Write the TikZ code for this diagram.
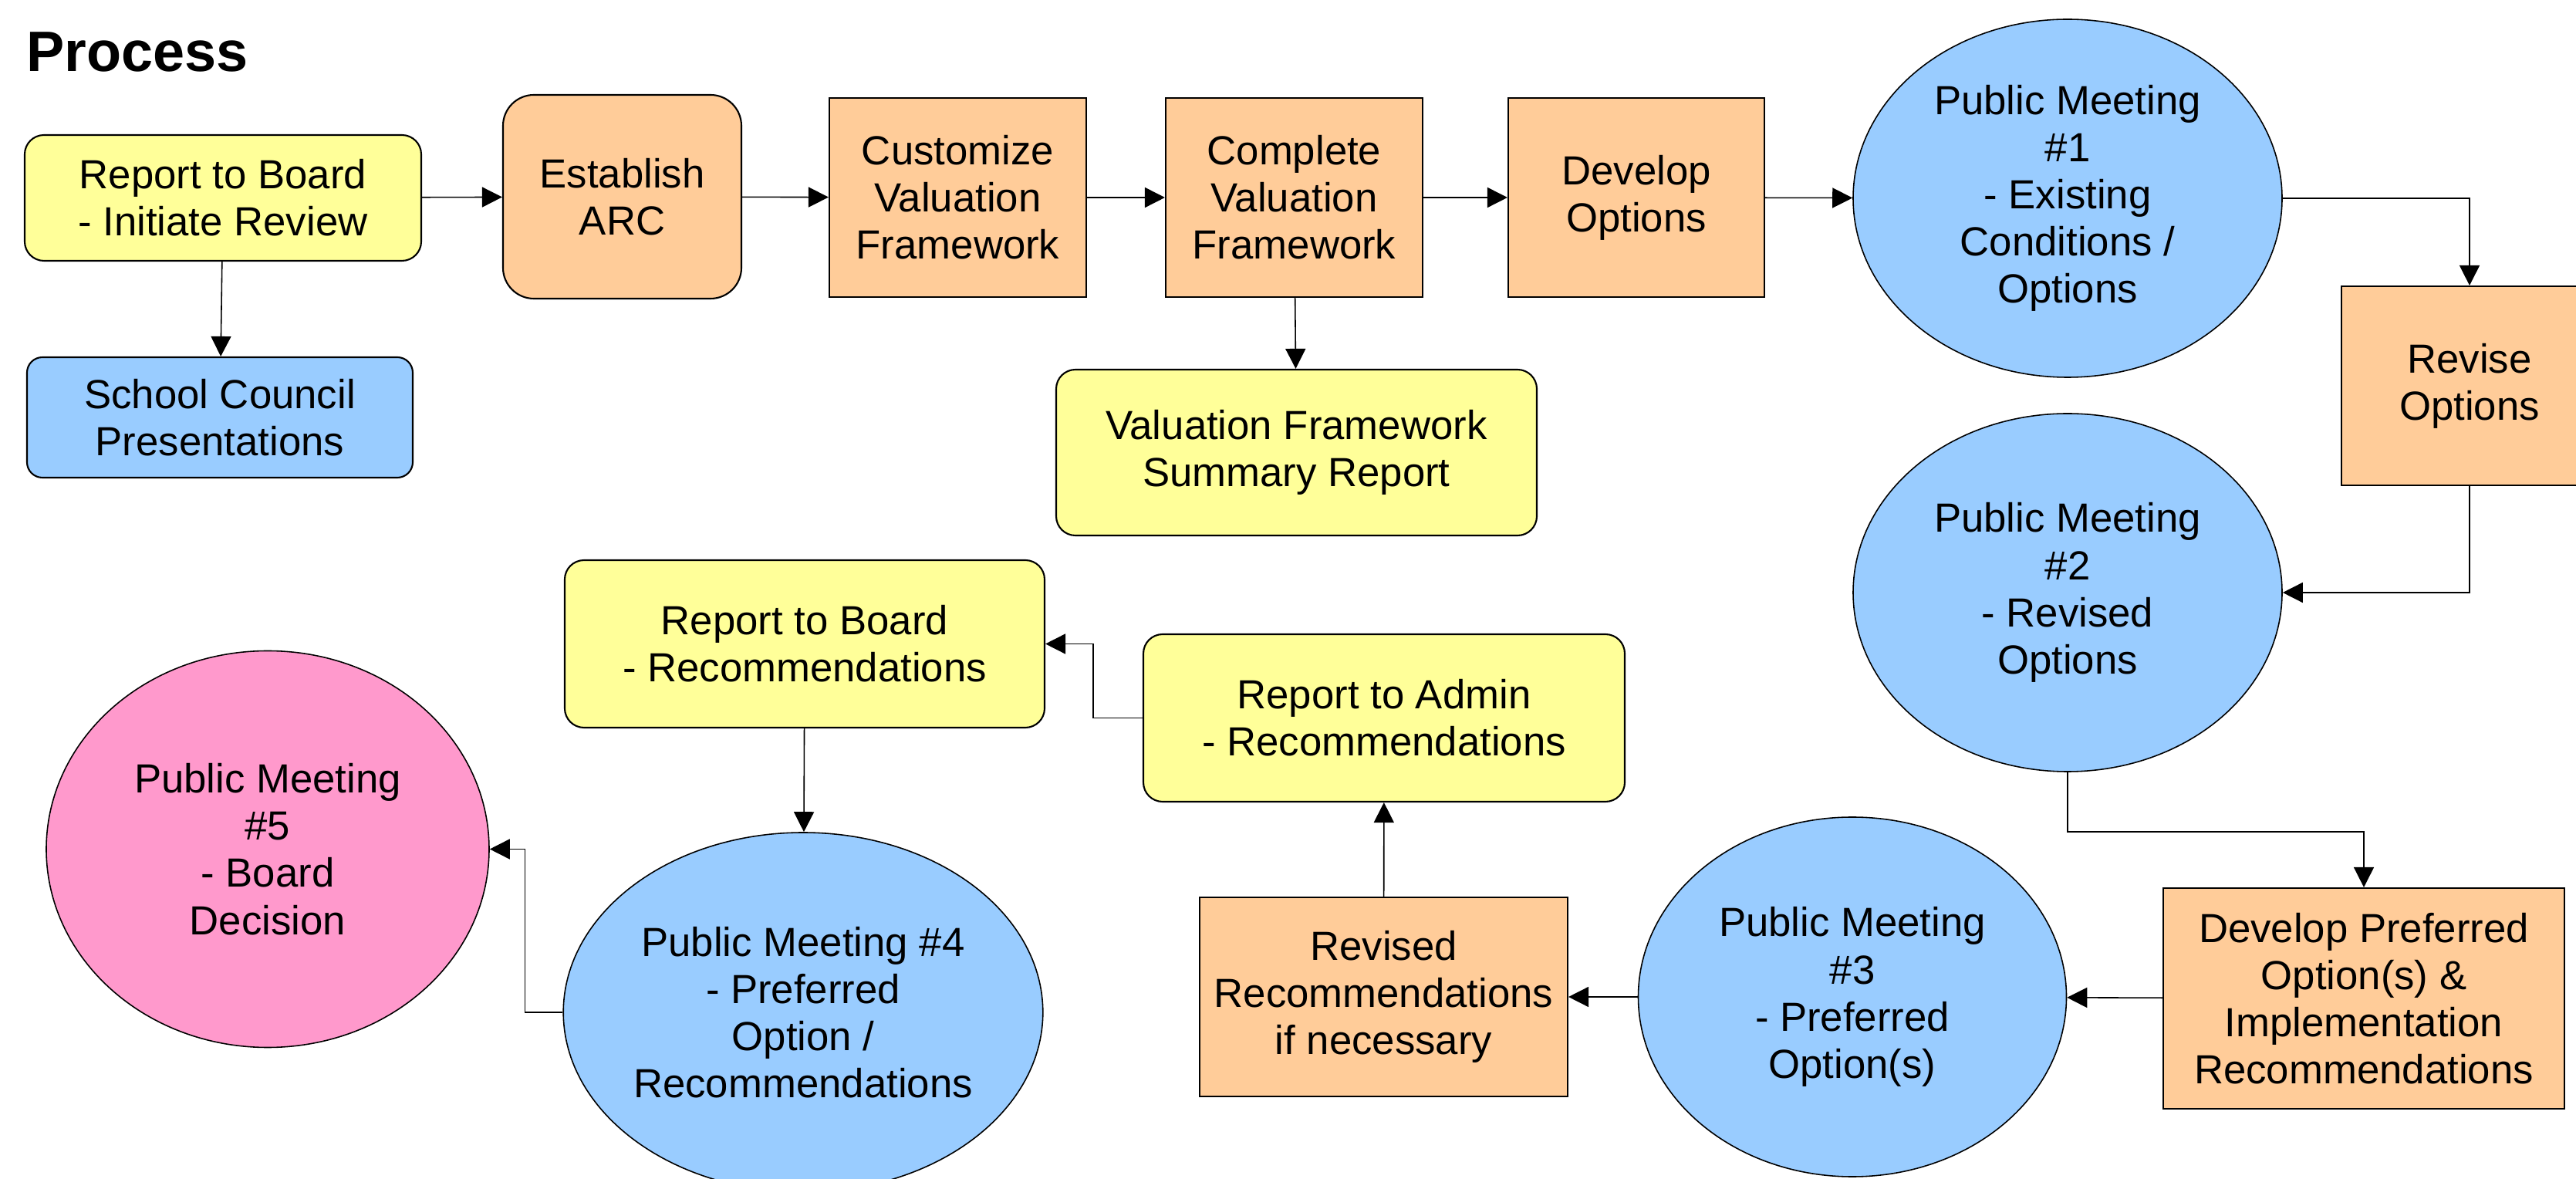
\documentclass[tikz,border=0pt]{standalone}
\usepackage{fontspec}
\setmainfont{Liberation Sans}
\usetikzlibrary{shapes, arrows.meta}
\definecolor{rptyellow}{HTML}{FFFF99}
\definecolor{taskorange}{HTML}{FFCC99}
\definecolor{meetblue}{HTML}{99CCFF}
\definecolor{meetpink}{HTML}{FF99CC}

\begin{document}
\begin{tikzpicture}[>={Triangle[length=7.4pt,width=7.4pt]},
  every node/.style={font=\fontsize{15}{17.4}\selectfont, align=center, inner sep=0pt},
  report/.style={draw, fill=rptyellow, rounded corners=0.25cm, line width=0.6pt},
  task/.style={draw, fill=taskorange, line width=0.6pt},
  meeting/.style={draw, ellipse, fill=meetblue, line width=0.45pt},
  link/.style={->, line width=0.45pt}]

\useasboundingbox (0,0) rectangle (33.39,-15.28);

%Title
\node (title) [anchor=base west, font=\fontsize{21}{25}\selectfont\bfseries] at (0.34,-0.93) {Process};

%Top row
\node (rb1) at (2.89,-2.565) [report, minimum width=5.14cm, minimum height=1.63cm] {Report to Board\\- Initiate Review};
\node (scp) at (2.85,-5.41) [report, fill=meetblue, rounded corners=0.2cm, minimum width=5.0cm, minimum height=1.56cm] {School Council\\Presentations};
\node (arc) at (8.065,-2.55) [task, rounded corners=0.4cm, minimum width=3.09cm, minimum height=2.64cm] {Establish\\ARC};
\node (cvf) at (12.415,-2.56) [task, minimum width=3.33cm, minimum height=2.58cm] {Customize\\Valuation\\Framework};
\node (fvf) at (16.775,-2.56) [task, minimum width=3.33cm, minimum height=2.58cm] {Complete\\Valuation\\Framework};
\node (dev) at (21.21,-2.56) [task, minimum width=3.32cm, minimum height=2.58cm] {Develop\\Options};
\node (vfs) at (16.805,-5.865) [report, minimum width=6.23cm, minimum height=2.15cm] {Valuation Framework\\Summary Report};
\node (pm1) at (26.80,-2.57) [meeting, minimum width=5.56cm, minimum height=4.64cm] {Public Meeting\\\#1\\- Existing\\Conditions /\\Options};

%Right column
\node (rev) at (32.01,-5.00) [task, minimum width=3.32cm, minimum height=2.58cm] {Revise\\Options};
\node (pm2) at (26.80,-7.68) [meeting, minimum width=5.56cm, minimum height=4.64cm] {Public Meeting\\\#2\\- Revised\\Options};
\node (dpo) at (30.64,-12.94) [task, minimum width=5.2cm, minimum height=2.86cm] {Develop Preferred\\Option(s) \&\\Implementation\\Recommendations};

%Bottom row
\node (pm3) at (24.01,-12.92) [meeting, minimum width=5.55cm, minimum height=4.66cm] {Public Meeting\\\#3\\- Preferred\\Option(s)};
\node (rrn) at (17.935,-12.92) [task, minimum width=4.77cm, minimum height=2.58cm] {Revised\\Recommendations\\if necessary};
\node (ra) at (17.94,-9.305) [report, minimum width=6.24cm, minimum height=2.17cm] {Report to Admin\\- Recommendations};
\node (rb2) at (10.43,-8.345) [report, minimum width=6.22cm, minimum height=2.17cm] {Report to Board\\- Recommendations};
\node (pm4) at (10.41,-13.12) [meeting, minimum width=6.18cm, minimum height=4.66cm] {Public Meeting \#4\\- Preferred\\Option /\\Recommendations};
\node (pm5) at (3.47,-11.005) [meeting, fill=meetpink, minimum width=5.74cm, minimum height=5.14cm] {Public Meeting\\\#5\\- Board\\Decision};

%Connectors
\draw[link] (rb1) -- (arc);
\draw[link] (rb1) -- (scp);
\draw[link] (arc) -- (cvf);
\draw[link] (cvf) -- (fvf);
\draw[link] (fvf) -- (dev);
\draw[link] (fvf) -- (vfs);
\draw[link] (dev) -- (pm1);
\draw[link] (pm1.east) -| (rev.north);
\draw[link] (rev.south) |- (pm2.east);
\draw[link] (pm2.south) -- ++(0,-0.77) -| (dpo.north);
\draw[link] (dpo) -- (pm3);
\draw[link] (pm3) -- (rrn);
\draw[link] (rrn) -- (ra);
\draw[link] (ra.west) -- ++(-0.64,0) |- (rb2.east);
\draw[link] (rb2) -- (pm4);
\draw[link] (pm4.west) -- ++(-0.49,0) |- (pm5.east);
\end{tikzpicture}
\end{document}
